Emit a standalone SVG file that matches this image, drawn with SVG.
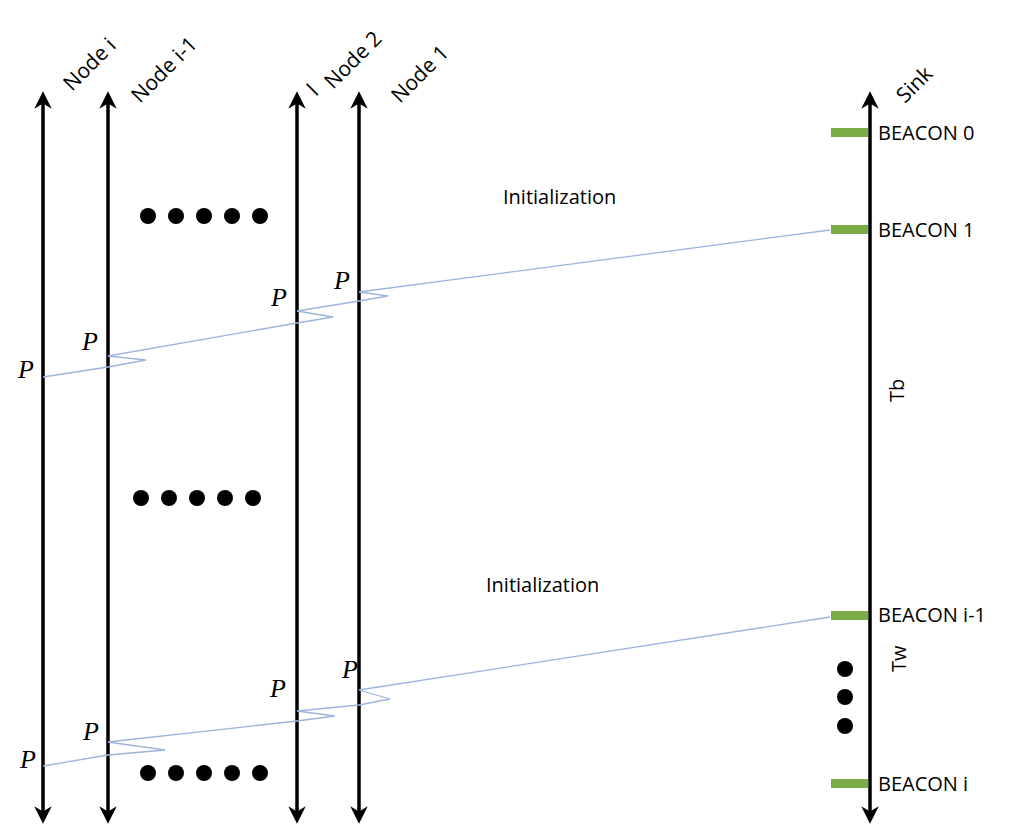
<svg xmlns="http://www.w3.org/2000/svg" width="1030" height="832" viewBox="0 0 1030 832">
<style>
.ax{stroke:#000;stroke-width:3.5;fill:none;marker-start:url(#a);marker-end:url(#a)}
.sig{stroke:#9db5dc;stroke-width:1.3;fill:none}
.t{font-family:"Open Sans","Liberation Sans",sans-serif;font-size:20px;fill:#000}
.n{font-size:21px}
.p{font-family:"Liberation Serif",serif;font-style:italic;font-size:26px;fill:#000}
.g{fill:#7aac47}
</style>
<defs><marker id="a" viewBox="0 0 10 10" refX="5" refY="5" markerWidth="5" markerHeight="5" orient="auto-start-reverse" markerUnits="strokeWidth"><path d="M0,0 L10,5 L0,10 L3,5 Z" fill="#000"/></marker></defs>
<rect width="1030" height="832" fill="#fff"/>
<g id="nodei"><line class="ax" x1="43" y1="815" x2="43" y2="100"/><text class="t n" transform="translate(72,92) rotate(-45)">Node i</text></g>
<g id="nodei1"><line class="ax" x1="108" y1="815" x2="108" y2="100"/><text class="t n" transform="translate(140,104) rotate(-45)">Node i-1</text></g>
<g id="node2"><line class="ax" x1="297" y1="815" x2="297" y2="100"/><text class="t n" transform="translate(316,97) rotate(-45)">l</text><text class="t n" transform="translate(333,90) rotate(-45)">Node 2</text></g>
<g id="node1"><line class="ax" x1="359" y1="815" x2="359" y2="100"/><text class="t n" transform="translate(400,104) rotate(-45)">Node 1</text></g>
<g id="sink"><line class="ax" x1="870" y1="815" x2="870" y2="100"/><text class="t n" transform="translate(905,104) rotate(-45)">Sink</text>
<text class="t" transform="translate(904,402) rotate(-90)" font-size="22">Tb</text><text class="t" transform="translate(906,672) rotate(-90)" font-size="17">Tw</text></g>
<g id="beacons">
<rect class="g" x="831" y="128" width="37" height="9"/><text class="t" x="878" y="140">BEACON 0</text>
<rect class="g" x="831" y="225" width="37" height="9"/><text class="t" x="878" y="237">BEACON 1</text>
<rect class="g" x="831" y="611" width="37" height="9"/><text class="t" x="878" y="622">BEACON i-1</text>
<rect class="g" x="831" y="779" width="37" height="9"/><text class="t" x="878" y="791">BEACON i</text>
</g>
<g id="connectors">
<path class="sig" d="M830,230 L359,292 L388,296 L359,301 L297,311 L333,317 L297,323 L108,356 L146,360 L108,367 L43,377"/>
<path class="sig" d="M830,617 L359,690 L390,699 L359,705 L297,711 L335,716 L297,721 L108,742 L165,750 L108,755 L43,766"/>
</g>
<g id="labels">
<text class="t" x="503" y="204">Initialization</text>
<text class="t" x="486" y="592">Initialization</text>
<text class="p" x="334" y="289">P</text><text class="p" x="271" y="306">P</text><text class="p" x="82" y="350">P</text><text class="p" x="18" y="378">P</text>
<text class="p" x="342" y="678">P</text><text class="p" x="270" y="697">P</text><text class="p" x="83" y="740">P</text><text class="p" x="20" y="768">P</text>
</g>
<g id="dots" fill="#000">
<circle cx="148" cy="216" r="8"/><circle cx="176" cy="216" r="8"/><circle cx="204" cy="216" r="8"/><circle cx="232" cy="216" r="8"/><circle cx="260" cy="216" r="8"/>
<circle cx="141" cy="498" r="8"/><circle cx="169" cy="498" r="8"/><circle cx="197" cy="498" r="8"/><circle cx="225" cy="498" r="8"/><circle cx="253" cy="498" r="8"/>
<circle cx="148" cy="773" r="8"/><circle cx="176" cy="773" r="8"/><circle cx="204" cy="773" r="8"/><circle cx="232" cy="773" r="8"/><circle cx="260" cy="773" r="8"/>
<circle cx="845" cy="669" r="8"/><circle cx="845" cy="697" r="8"/><circle cx="845" cy="726" r="8"/>
</g>
</svg>
